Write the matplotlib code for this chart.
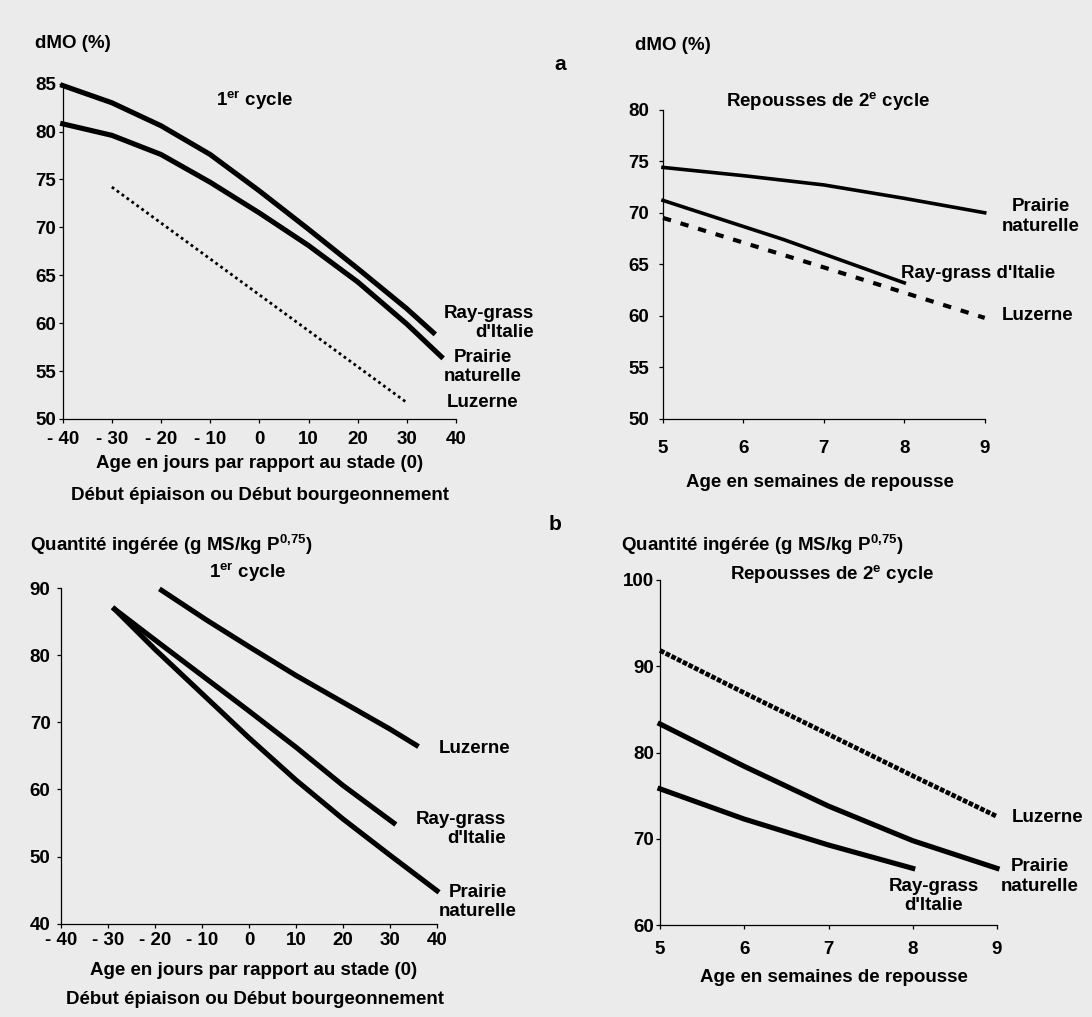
import matplotlib.pyplot as plt

plt.rcParams['font.family'] = ['Liberation Sans', 'DejaVu Sans']
plt.rcParams['font.weight'] = 'bold'
plt.rcParams['font.size'] = 13.5
plt.rcParams['mathtext.fontset'] = 'custom'
plt.rcParams['mathtext.rm'] = 'Liberation Sans:bold'
plt.rcParams['mathtext.it'] = 'Liberation Sans:bold'
plt.rcParams['mathtext.bf'] = 'Liberation Sans:bold'

# ---- a) dMO (%), 1er cycle : age in days relative to stage (0)
a1_rg_x = [-40, -30, -20, -10, 0, 10, 20, 30, 35.4]
a1_rg_y = [84.8, 83.0, 80.6, 77.6, 73.8, 69.8, 65.7, 61.5, 59.0]
a1_pn_x = [-40, -30, -20, -10, 0, 10, 20, 30, 37]
a1_pn_y = [80.8, 79.6, 77.6, 74.7, 71.5, 68.1, 64.3, 59.9, 56.5]
a1_lu_x = [-30, 30]
a1_lu_y = [74.2, 51.7]

# ---- a) dMO (%), repousses de 2e cycle : age in weeks
a2_pn_x = [5, 6, 7, 8, 9]
a2_pn_y = [74.4, 73.6, 72.7, 71.4, 70.0]
a2_rg_x = [5, 6.5, 8]
a2_rg_y = [71.2, 67.4, 63.2]
a2_lu_x = [5, 7, 9]
a2_lu_y = [69.5, 64.7, 59.8]

# ---- b) intake, 1er cycle
b1_lu_x = [-18.6, -9.1, 0, 10, 20, 30, 35.6]
b1_lu_y = [89.7, 85.3, 81.3, 77.0, 73.0, 69.0, 66.6]
b1_rg_x = [-28.6, -20, -10, 0, 10, 20, 30.8]
b1_rg_y = [86.9, 82.3, 77.0, 71.7, 66.3, 60.6, 55.0]
b1_pn_x = [-28.6, -20, -10, 0, 10, 20, 30, 40]
b1_pn_y = [86.9, 80.9, 74.3, 67.7, 61.4, 55.6, 50.2, 44.9]

# ---- b) intake, repousses de 2e cycle
b2_lu_x = [5, 6, 7, 8, 9]
b2_lu_y = [91.8, 86.9, 82.1, 77.3, 72.6]
b2_pn_x = [5, 6, 7, 8, 9]
b2_pn_y = [83.3, 78.4, 73.8, 69.8, 66.6]
b2_rg_x = [5, 6, 7, 8]
b2_rg_y = [75.8, 72.3, 69.3, 66.6]

day_ticks = [-40, -30, -20, -10, 0, 10, 20, 30, 40]
day_labels = ['- 40', '- 30', '- 20', '- 10', '0', '10', '20', '30', '40']
week_ticks = [5, 6, 7, 8, 9]

W, H = 1092, 1017
fig = plt.figure(figsize=(W / 100, H / 100), dpi=100, facecolor='#ebebeb')


def box(x0, y0, x1, y1):
    return [x0 / W, 1 - y1 / H, (x1 - x0) / W, (y1 - y0) / H]


def ftext(x, y, s, **kw):
    kw.setdefault('va', 'center')
    fig.text(x / W, 1 - y / H, s, **kw)


def style(ax, xlim, ylim, xt, xl, yt, xpad, ypad):
    ax.set_xlim(xlim)
    ax.set_ylim(ylim)
    ax.patch.set_visible(False)
    ax.spines[['top', 'right']].set_visible(False)
    for sp in ('left', 'bottom'):
        ax.spines[sp].set_linewidth(0.9)
    ax.set_xticks(xt)
    ax.set_xticklabels(xl)
    ax.set_yticks(yt)
    ax.tick_params(axis='x', direction='out', length=3, width=0.9, pad=xpad, labelsize=13.5)
    ax.tick_params(axis='y', direction='out', length=3, width=0.9, pad=ypad, labelsize=13.5)


thick = 3.7

# top left
ax1 = fig.add_axes(box(62.7, 83.6, 456, 418.9))
style(ax1, (-40, 40), (50, 85), day_ticks, day_labels, range(50, 90, 5), 5.5, 2)
ax1.plot(a1_rg_x, a1_rg_y, color='black', lw=thick, clip_on=False)
ax1.plot(a1_pn_x, a1_pn_y, color='black', lw=thick, clip_on=False)
ax1.plot(a1_lu_x, a1_lu_y, color='black', lw=2.0, ls=(0, (1, 1.2)), clip_on=False)
ax1.text(55.8, 60.0, "Ray-grass\nd'Italie", ha='right', va='center', multialignment='right', clip_on=False)
ax1.text(45.5, 55.4, "Prairie\nnaturelle", ha='center', va='center', clip_on=False)
ax1.text(45.5, 51.7, "Luzerne", ha='center', va='center', clip_on=False)
ftext(35, 43.5, "dMO (%)", ha='left')
ftext(254, 101, r"1$^{er}$ cycle", ha='center')
ftext(260, 464, "Age en jours par rapport au stade (0)", ha='center')
ftext(260, 495, "Début épiaison ou Début bourgeonnement", ha='center')

# top right
ax2 = fig.add_axes(box(663, 109.7, 984.7, 418.9))
style(ax2, (5, 9), (50, 80), week_ticks, [str(w) for w in week_ticks], range(50, 85, 5), 12, 7)
ax2.plot(a2_pn_x, a2_pn_y, color='black', lw=2.6, clip_on=False)
ax2.plot(a2_rg_x, a2_rg_y, color='black', lw=2.6, clip_on=False)
ax2.plot(a2_lu_x, a2_lu_y, color='black', lw=3.0, ls=(0, (2, 2.4)), clip_on=False)
ax2.text(9.70, 69.64, "Prairie\nnaturelle", ha='center', va='center', clip_on=False)
ax2.text(7.96, 64.1, "Ray-grass d'Italie", ha='left', va='center', clip_on=False)
ax2.text(9.21, 60.0, "Luzerne", ha='left', va='center', clip_on=False)
ftext(635, 45, "dMO (%)", ha='left')
ftext(560, 64, "a", ha='center', fontsize=15)
ftext(828, 101, r"Repousses de 2$^{e}$ cycle", ha='center')
ftext(820, 483, "Age en semaines de repousse", ha='center')

# bottom left
ax3 = fig.add_axes(box(61, 588.3, 437, 923.6))
style(ax3, (-40, 40), (40, 90), day_ticks, day_labels, range(40, 100, 10), 3, 4.5)
ax3.plot(b1_lu_x, b1_lu_y, color='black', lw=thick, clip_on=False)
ax3.plot(b1_rg_x, b1_rg_y, color='black', lw=thick, clip_on=False)
ax3.plot(b1_pn_x, b1_pn_y, color='black', lw=thick, clip_on=False)
ax3.text(48.0, 66.1, "Luzerne", ha='center', va='center', clip_on=False)
ax3.text(54.6, 54.1, "Ray-grass\nd'Italie", ha='right', va='center', multialignment='right', clip_on=False)
ax3.text(48.7, 43.2, "Prairie\nnaturelle", ha='center', va='center', clip_on=False)
ftext(30, 545, r"Quantité ingérée (g MS/kg P$^{0{,}75}$)", ha='left')
ftext(247, 573, r"1$^{er}$ cycle", ha='center')
ftext(254, 970.6, "Age en jours par rapport au stade (0)", ha='center')
ftext(255, 1000, "Début épiaison ou Début bourgeonnement", ha='center')

# bottom right
ax4 = fig.add_axes(box(660, 579.6, 997, 925.4))
style(ax4, (5, 9), (60, 100), week_ticks, [str(w) for w in week_ticks], range(60, 110, 10), 8, 1.5)
ax4.plot(b2_lu_x, b2_lu_y, color='black', lw=3.4, ls=(0, (1, 0.35)), clip_on=False)
ax4.plot(b2_pn_x, b2_pn_y, color='black', lw=thick, clip_on=False)
ax4.plot(b2_rg_x, b2_rg_y, color='black', lw=thick, clip_on=False)
ax4.text(9.17, 72.5, "Luzerne", ha='left', va='center', clip_on=False)
ax4.text(9.51, 65.65, "Prairie\nnaturelle", ha='center', va='center', clip_on=False)
ax4.text(8.25, 63.4, "Ray-grass\nd'Italie", ha='center', va='center', clip_on=False)
ftext(555, 524, "b", ha='center', fontsize=15)
ftext(621, 545, r"Quantité ingérée (g MS/kg P$^{0{,}75}$)", ha='left')
ftext(832, 574, r"Repousses de 2$^{e}$ cycle", ha='center')
ftext(834, 978, "Age en semaines de repousse", ha='center')

fig.savefig('out.png', dpi=100, facecolor=fig.get_facecolor())
